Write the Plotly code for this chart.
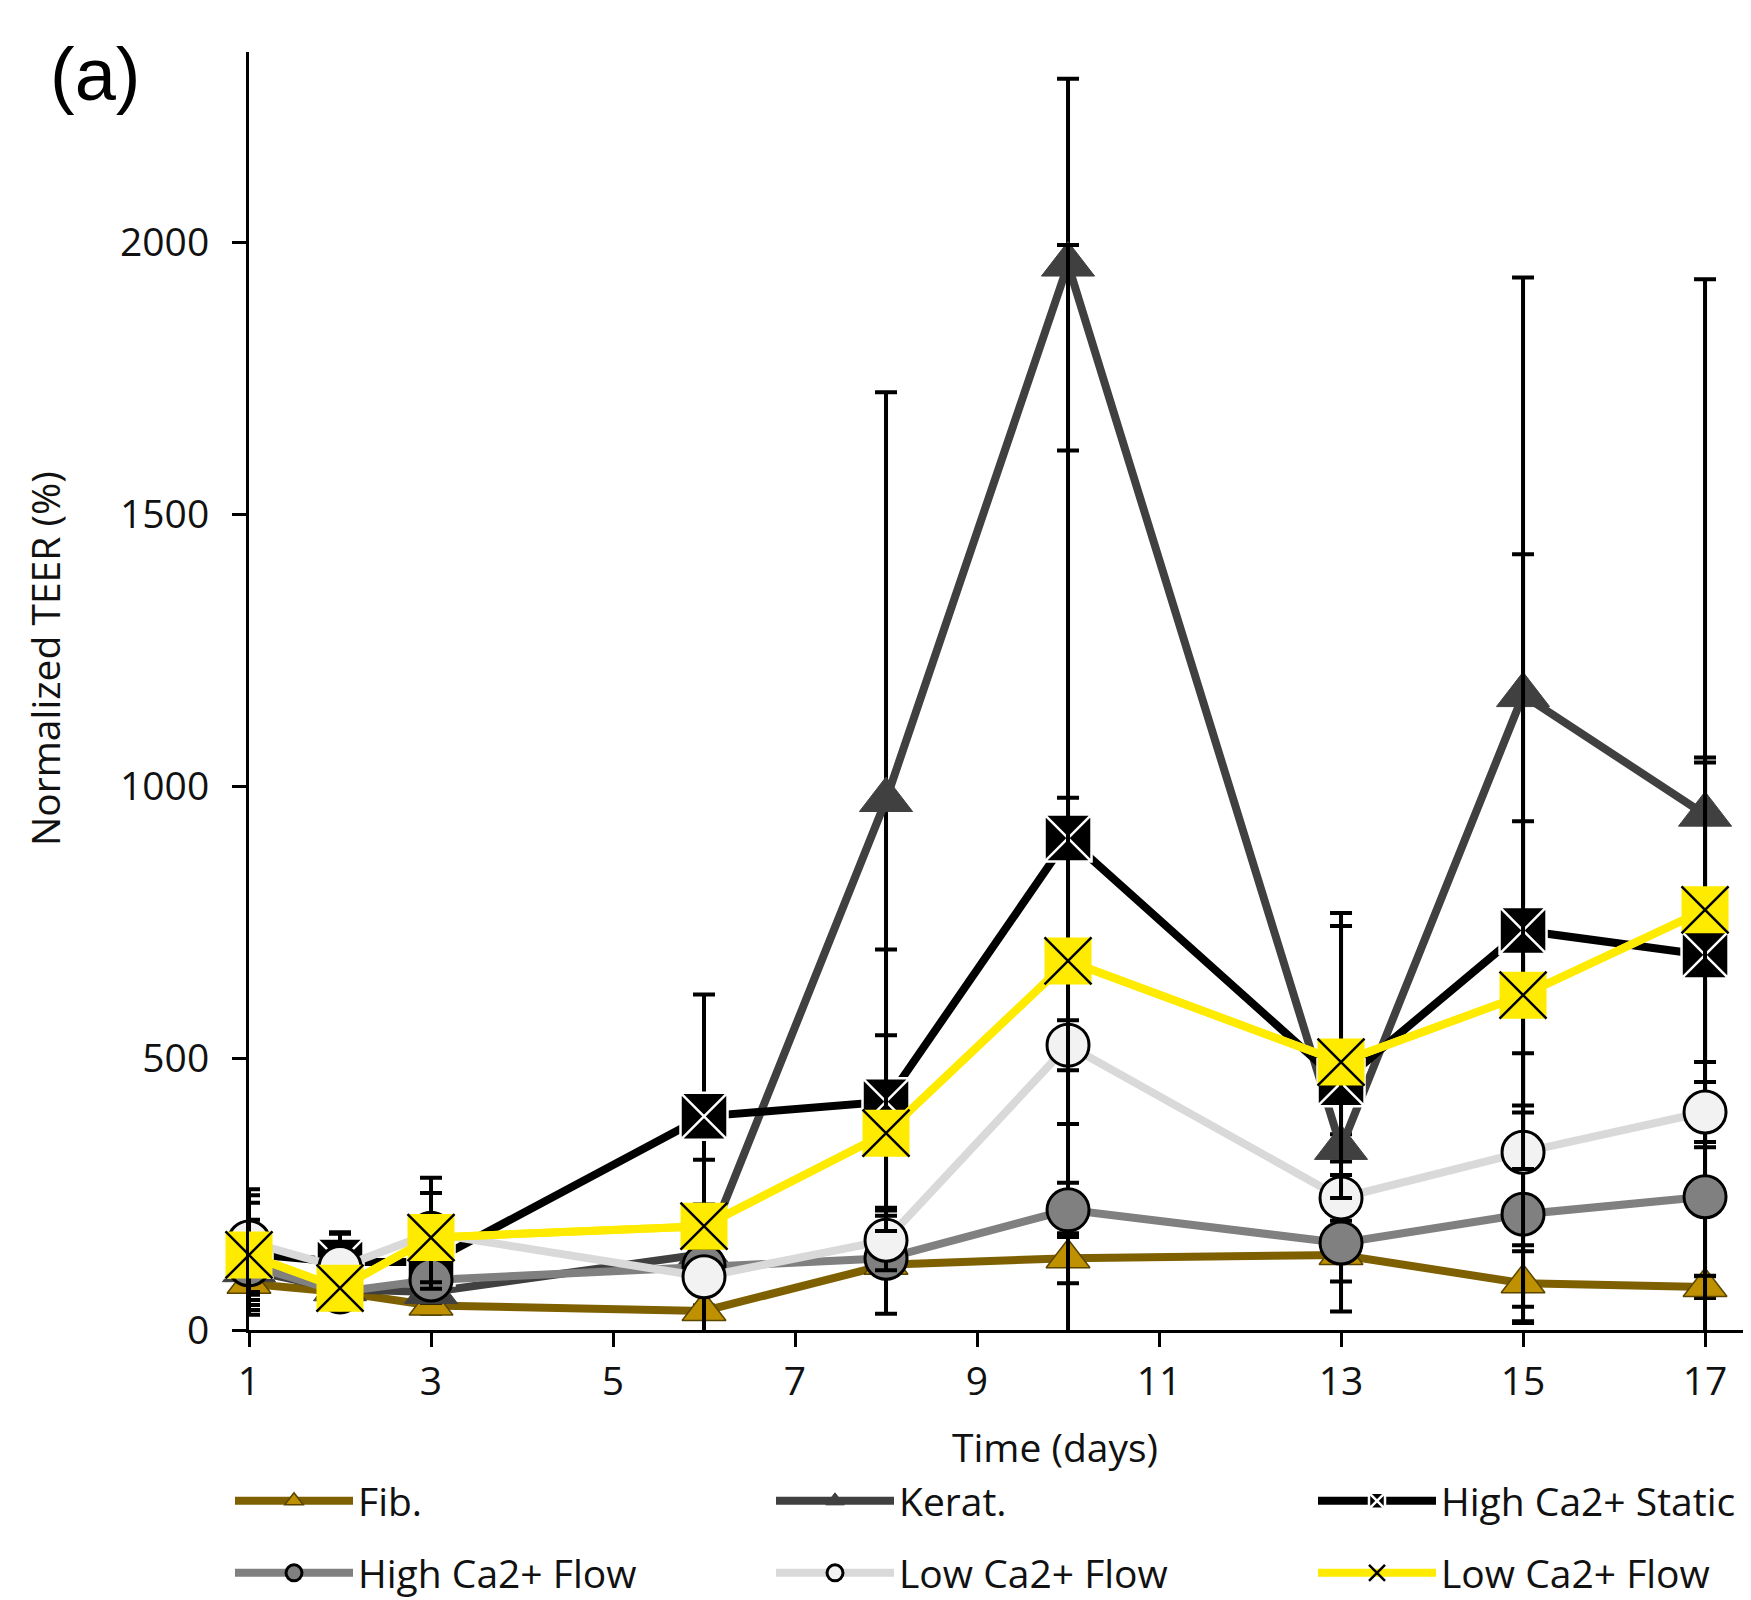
import plotly.graph_objects as go

days = [1, 2, 3, 6, 8, 10, 13, 15, 17]

fib = [85, 70, 45, 35, 120, 132, 138, 86, 79]
fib_err = [30, 20, 15, 10, 90, 46, 104, 70, 20]

kerat = [110, 75, 70, 140, 975, 1960, 335, 1168, 948]
kerat_err = [40, 20, 20, 173, 750, 342, 25, 768, 985]

high_static = [140, 125, 125, 393, 420, 905, 455, 735, 690]
high_static_err = [94, 55, 60, 224, 280, 1091, 312, 692, 354]

high_flow = [120, 70, 92, 118, 132, 221, 160, 213, 245]
high_flow_err = [83, 20, 30, 20, 30, 50, 71, 200, 145]

low_flow = [162, 115, 178, 98, 165, 524, 243, 327, 401]
low_flow_err = [97, 62, 102, 30, 55, 46, 42, 182, 55]

low_flow_y = [138, 77, 170, 191, 362, 679, 493, 616, 773]
low_flow_y_err = [110, 30, 82, 40, 180, 300, 250, 320, 280]

x_ticks = [1, 3, 5, 7, 9, 11, 13, 15, 17]
y_ticks = [0, 500, 1000, 1500, 2000]

FONT = "Open Sans"
FS = 39
TXT = "#111111"

OFF = 8  # page body margin
W, H = 1751 - OFF, 1600 - OFF
# plot area in page pixels: x 249..1751, y 52..1330
L, R, T, B = 249 - OFF, 0, 52 - OFF, 1600 - 1330
pw = W - L - R
ph = H - T - B


def px(xp):
    return (xp - OFF - L) / pw


def py(yp):
    return (H - B - (yp - OFF)) / ph


series = [
    dict(name="Fib.", y=fib, e=fib_err, lc="#7f6000",
         m=dict(symbol="triangle-up", size=38, color="#bf9000", line=dict(color="#5a4500", width=1.5))),
    dict(name="Kerat.", y=kerat, e=kerat_err, lc="#404040",
         m=dict(symbol="triangle-up", size=46, color="#404040", line=dict(color="#404040", width=1))),
    dict(name="High Ca2+ Static", y=high_static, e=high_static_err, lc="#000000",
         m=dict(symbol="square-x", size=47, color="#000000", line=dict(color="#ffffff", width=2.5))),
    dict(name="High Ca2+ Flow", y=high_flow, e=high_flow_err, lc="#808080",
         m=dict(symbol="circle", size=42, color="#808080", line=dict(color="#000000", width=3))),
    dict(name="Low Ca2+ Flow", y=low_flow, e=low_flow_err, lc="#d9d9d9",
         m=dict(symbol="circle", size=42, color="#f2f2f2", line=dict(color="#000000", width=3))),
    dict(name="Low Ca2+ Flow", y=low_flow_y, e=low_flow_y_err, lc="#ffeb00",
         m=dict(symbol="x-thin", size=47, color="#000000", line=dict(color="#000000", width=2.5)),
         under=dict(symbol="square", size=47, color="#ffeb00", line=dict(width=0))),
]

legend_pos = [(230, 1501), (771, 1501), (1313, 1501), (230, 1573), (771, 1573), (1313, 1573)]

fig = go.Figure()
legend_layouts = {}
for i, s in enumerate(series):
    lname = "legend" if i == 0 else f"legend{i + 1}"
    # error bars (clipped to plot area)
    fig.add_trace(go.Scatter(
        x=days, y=s["y"], mode="markers",
        marker=dict(size=1, opacity=0),
        error_y=dict(type="data", array=s["e"], visible=True, color="#000000",
                     thickness=4, width=11),
        cliponaxis=True, showlegend=False, hoverinfo="skip",
    ))
    if "under" in s:
        fig.add_trace(go.Scatter(
            x=days, y=s["y"], mode="lines+markers", line=dict(color=s["lc"], width=8),
            marker=s["under"], cliponaxis=False, showlegend=False, hoverinfo="skip",
        ))
    fig.add_trace(go.Scatter(
        x=days, y=s["y"], mode="lines+markers", name=s["name"],
        line=dict(color=s["lc"], width=8),
        marker=s["m"], cliponaxis=False, legend=lname,
    ))
    lx, ly = legend_pos[i]
    legend_layouts[lname] = dict(
        x=px(lx), y=py(ly), xanchor="left", yanchor="middle", orientation="h",
        font=dict(size=FS, family=FONT, color=TXT), itemwidth=118,
        bgcolor="rgba(0,0,0,0)", borderwidth=0,
    )

fig.update_layout(
    width=W, height=H,
    margin=dict(l=L, r=R, t=T, b=B, pad=0, autoexpand=False),
    paper_bgcolor="white", plot_bgcolor="white",
    font=dict(family=FONT, color=TXT, size=FS),
    xaxis=dict(range=[1, 17.505], tickvals=x_ticks, ticks="outside", ticklen=14,
               tickwidth=3, tickcolor="black", showline=True, linewidth=3,
               linecolor="black", showgrid=False, zeroline=False,
               tickfont=dict(size=FS, family=FONT, color=TXT), ticklabelstandoff=1),
    yaxis=dict(range=[0, 2351], tickvals=y_ticks, ticks="outside", ticklen=14,
               tickwidth=3, tickcolor="black", showline=True, linewidth=3,
               linecolor="black", showgrid=False, zeroline=False,
               tickfont=dict(size=FS, family=FONT, color=TXT), ticklabelstandoff=15),
    annotations=[
        dict(text="Time (days)", x=px(1055), y=py(1446), xref="paper", yref="paper",
             showarrow=False, font=dict(size=FS, family=FONT, color=TXT),
             xanchor="center", yanchor="middle"),
        dict(text="Normalized TEER (%)", x=px(44), y=py(659), xref="paper", yref="paper",
             showarrow=False, textangle=-90, font=dict(size=FS, family=FONT, color=TXT),
             xanchor="center", yanchor="middle"),
        dict(text="(a)", x=px(95), y=py(74), xref="paper", yref="paper",
             showarrow=False, font=dict(size=74, family="Liberation Sans", color="#000000"),
             xanchor="center", yanchor="middle"),
    ],
    **legend_layouts,
)

fig.write_html("out.html")
